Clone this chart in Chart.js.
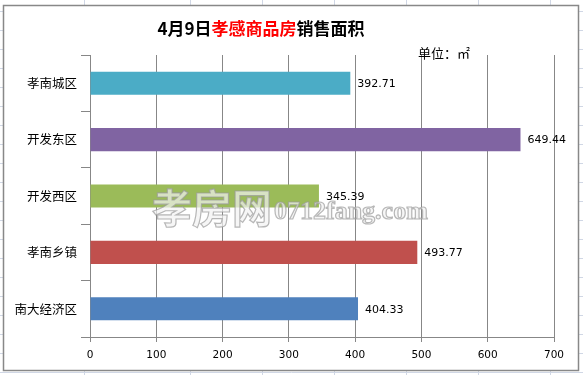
<!DOCTYPE html>
<html>
<head>
<meta charset="utf-8">
<script src="https://cdn.jsdelivr.net/npm/chart.js@4/dist/chart.umd.min.js"></script>
<style>
  html, body { margin: 0; padding: 0; background: #fff; }
  canvas { display: block; }
</style>
</head>
<body>
<canvas id="salesChart" width="583" height="375"></canvas>
<script>
// 4月9日孝感商品房销售面积 — horizontal bars

const categories = ['孝南城区', '开发东区', '开发西区', '孝南乡镇', '南大经济区'];
const areaValues = [392.71, 649.44, 345.39, 493.77, 404.33];
const barColors = ['#4BACC6', '#8064A2', '#9BBB59', '#C0504D', '#4F81BD'];
const xTicks = [0, 100, 200, 300, 400, 500, 600, 700];

const CJK = '"Noto Sans CJK SC", sans-serif';
const AXIS_GREY = '#878787';

// ── Sheet grid + chart frame + title ────────────────────────────────────────
const framePlugin = {
  id: 'frame',
  beforeDraw(chart) {
    const c = chart.ctx;
    c.save();
    c.fillStyle = '#fff';
    c.fillRect(0, 0, chart.width, chart.height);
    // spreadsheet cells behind the chart
    c.strokeStyle = '#D0D7E5';
    c.lineWidth = 1;
    [84, 190, 262, 334, 406, 478, 550].forEach(x => {
      c.beginPath(); c.moveTo(x + 0.5, 0); c.lineTo(x + 0.5, chart.height); c.stroke();
    });
    for (let y = 11; y < chart.height; y += 19) {
      c.beginPath(); c.moveTo(0, y + 0.5); c.lineTo(chart.width, y + 0.5); c.stroke();
    }
    // chart box
    c.fillStyle = '#fff';
    c.fillRect(3, 5, 576, 366);
    c.strokeStyle = '#888';
    c.lineWidth = 1.5;
    c.strokeRect(3.5, 5.5, 575, 365);
    c.restore();
  },
  afterDraw(chart) {
    const c = chart.ctx;
    c.save();
    // title with red middle part
    const parts = [['4月9日', '#000'], ['孝感商品房', '#FF0000'], ['销售面积', '#000']];
    c.font = 'bold 17px ' + CJK;
    c.textBaseline = 'middle';
    c.textAlign = 'left';
    const total = parts.reduce((s, p) => s + c.measureText(p[0]).width, 0);
    let x = 261 - total / 2;
    parts.forEach(([t, col]) => {
      c.fillStyle = col;
      c.fillText(t, x, 29);
      x += c.measureText(t).width;
    });
    // unit
    c.font = '13px ' + CJK;
    c.fillStyle = '#000';
    c.fillText('单位：㎡', 418, 53);
    // watermark
    c.globalAlpha = 0.7;
    c.lineWidth = 1.2;
    c.strokeStyle = '#9a9a9a';
    c.fillStyle = '#f2f2f2';
    c.font = 'bold 40px ' + CJK;
    c.textBaseline = 'alphabetic';
    c.fillText('孝房网', 152, 223);
    c.strokeText('孝房网', 152, 223);
    c.font = 'bold 26px "Liberation Serif", serif';
    c.fillText('0712fang.com', 274, 219);
    c.strokeText('0712fang.com', 274, 219);
    c.restore();
  }
};

// ── Value labels at bar ends ───────────────────────────────────────────────
const valueLabels = {
  id: 'valueLabels',
  afterDatasetsDraw(chart) {
    const c = chart.ctx;
    const meta = chart.getDatasetMeta(0);
    c.save();
    c.font = '11px "DejaVu Sans", sans-serif';
    c.fillStyle = '#000';
    c.textAlign = 'left';
    c.textBaseline = 'middle';
    meta.data.forEach((bar, i) => {
      c.fillText(areaValues[i].toFixed(2), bar.x + 7, bar.y + 1);
    });
    c.restore();
  }
};

new Chart(document.getElementById('salesChart'), {
  type: 'bar',
  data: {
    labels: categories,
    datasets: [{
      data: areaValues,
      backgroundColor: barColors,
      borderWidth: 0,
      barPercentage: 0.41,
      categoryPercentage: 1
    }]
  },
  options: {
    indexAxis: 'y',
    responsive: false,
    animation: false,
    devicePixelRatio: 1,
    layout: { padding: { top: 55, right: 29, left: 0, bottom: 0 } },
    plugins: { legend: { display: false }, tooltip: { enabled: false } },
    scales: {
      x: {
        min: 0,
        max: 700,
        afterBuildTicks(s) { s.ticks = xTicks.map(v => ({ value: v })); },
        afterFit(s) { s.height = 38; },
        grid: { color: AXIS_GREY, tickLength: 5 },
        border: { color: AXIS_GREY },
        ticks: { color: '#000', padding: 7, font: { family: '"DejaVu Sans", sans-serif', size: 10.5 } }
      },
      y: {
        afterFit(s) { s.width = 90; },
        grid: { drawOnChartArea: false, tickLength: 9, color: AXIS_GREY, offset: true },
        border: { color: AXIS_GREY },
        ticks: { color: '#000', padding: 4, font: { family: CJK, size: 12.5 } }
      }
    }
  },
  plugins: [framePlugin, valueLabels]
});
</script>
</body>
</html>
